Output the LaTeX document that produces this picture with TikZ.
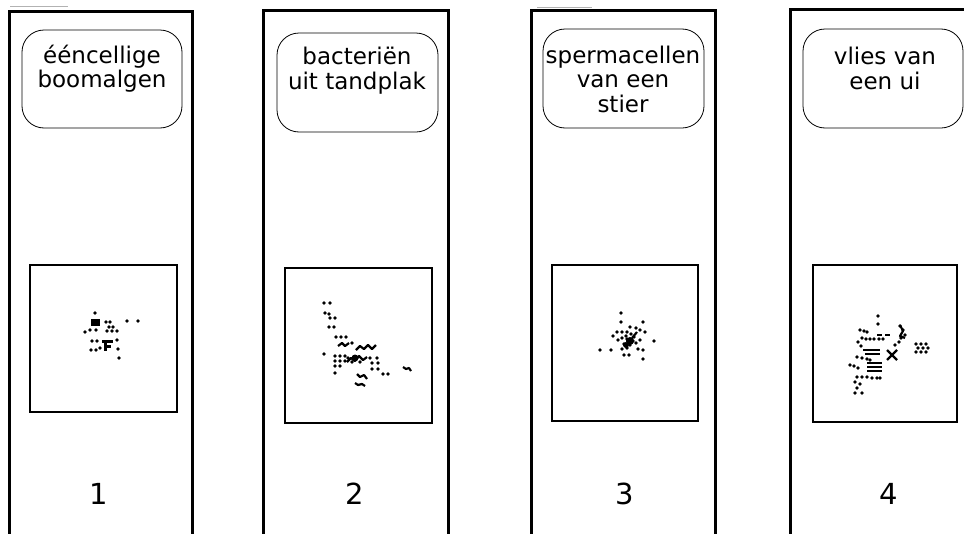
\documentclass[tikz,border=0pt]{standalone}
\usepackage{fontspec}
\setmainfont{DejaVu Sans}
\begin{document}
\begin{tikzpicture}[x=1pt,y=-1pt,
  strip/.style={line width=3pt},
  labelbox/.style={draw, line width=0.8pt, rounded corners=22pt, inner sep=0},
  frame/.style={draw, line width=2pt, inner sep=0},
  lbl/.style={font=\fontsize{23}{24.5}\selectfont, align=center, inner sep=0},
  num/.style={font=\fontsize{29}{32}\selectfont, inner sep=0},
  zig/.style={line width=2.2pt, line join=round}]
\useasboundingbox (0,0) rectangle (964,533);
\clip (0,0) rectangle (964,533);
% strips
\draw[strip] (9,545) -- (9,11) -- (192,11) -- (192,545);
\draw[strip] (263,545) -- (263,10) -- (448,10) -- (448,545);
\draw[strip] (531,545) -- (531,10) -- (715,10) -- (715,545);
\draw[strip] (790,545) -- (790,9) -- (980,9) -- (980,545);
\draw[gray!60, line width=1pt] (10,6) -- (68,6);
\draw[gray!60, line width=1pt] (537,7) -- (592,7);
% label boxes
\node[labelbox, minimum width=160pt, minimum height=98pt] (b1) at (102,79) {};
\node[labelbox, minimum width=161pt, minimum height=99pt] (b2) at (357.5,82.5) {};
\node[labelbox, minimum width=161pt, minimum height=99pt] (b3) at (623.5,78.5) {};
\node[labelbox, minimum width=160pt, minimum height=99pt] (b4) at (883,78.5) {};
\node[lbl] (t1) at (102,68.5) {ééncellige\\boomalgen};
\node[lbl] (t2) at (357,70.5) {bacteriën\\uit tandplak};
\node[lbl] (t3) at (623,79) {spermacellen\\van een\\stier};
\node[lbl] (t4) at (885,68.5) {vlies van\\een ui};
% squares
\node[frame, minimum width=147pt, minimum height=147pt] (s1) at (103.5,338.5) {};
\node[frame, minimum width=147pt, minimum height=155pt] (s2) at (358.5,345.5) {};
\node[frame, minimum width=146pt, minimum height=156pt] (s3) at (625,343) {};
\node[frame, minimum width=144pt, minimum height=157pt] (s4) at (885,343.5) {};
% numbers
\node[num] (n1) at (99,494) {1};
\node[num] (n2) at (355,494) {2};
\node[num] (n3) at (625,494) {3};
\node[num] (n4) at (889,494) {4};
% cluster 1
\foreach \x/\y in {95/313,90/330,96/330,85/332,106/322,110/322,109/327,113/327,107/331,112/331,117/331,127/321,138/321,92/341,97/341,117/340,91/350,96/350,100/348,118/349,119/358}
  \fill (\x,\y) circle[radius=1.8pt];
\fill (91,319) rectangle (100,326);
\draw[line width=3pt] (102,341) -- (113,341);
\draw[line width=3pt] (105,341) -- (105,351);
\draw[line width=3pt] (105,346) -- (111,346);
% cluster 2
\foreach \x/\y in {324/303,330/303,325/313,329/314,330/318,335/318,329/327,334/327,336/337,341/337,346/337,324/354,335/356,340/356,345/356,335/361,340/361,345/361,335/366,340/366,335/373,370/358,377/358,372/363,378/363,372/369,378/369,383/374,388/374,352/343,348/358,352/362,356/358,360/362}
  \fill (\x,\y) circle[radius=1.8pt];
\draw[zig] (338,346) -- (342,343) -- (345,346) -- (349,343);
\draw[zig] (356,350) -- (360,346) -- (364,349) -- (368,345) -- (372,349) -- (376,345);
\draw[zig] (347,362) -- (351,358) -- (355,361) -- (359,356) -- (363,360) -- (367,357);
\draw[zig] (357,374) -- (360,377) -- (364,375) -- (367,379);
\draw[zig] (355,383) -- (358,385) -- (362,384) -- (365,386);
\draw[zig] (403,367) -- (406,369) -- (409,368) -- (411,371);
\fill (355,358) circle[radius=3.5pt];
% cluster 3
\foreach \x/\y in {621/313,621/322,643/322,630/327,636/328,617/332,622/332,627/332,640/330,645/332,613/336,654/341,600/350,611/350,622/349,627/348,638/349,643/350,624/355,629/355,643/359,618/340,640/340,626/336,631/334,634/337,628/341,633/341,624/344,630/345,636/343,627/339,622/338}
  \fill (\x,\y) circle[radius=1.8pt];
\fill (630,341) circle[radius=4pt];
\fill (626,345) circle[radius=3pt];
\draw[zig] (632,338) -- (637,332);
% cluster 4
\foreach \x/\y in {878/316,878/324,860/330,864/331,867/332,900/326,903/330,905/335,901/338,916/344,921/344,926/344,918/348,923/348,928/348,916/352,921/352,926/352,857/357,862/358,867/359,870/360,850/365,854/366,858/368,857/377,862/377,867/377,872/378,877/378,880/378,855/382,860/384,857/388,862/393,855/393,862/338,866/339,870/339,874/339,879/339,883/339,895/345,899/342,858/342,861/346}
  \fill (\x,\y) circle[radius=1.8pt];
\draw[zig] (877,335) -- (882,335);
\draw[zig] (885,335) -- (890,335);
\draw[zig] (863,350) -- (880,350);
\draw[zig] (865,354) -- (880,354);
\draw[zig] (867,363) -- (882,363);
\draw[zig] (867,367) -- (882,367);
\draw[zig] (867,371) -- (882,371);
\draw[zig] (887,350) -- (897,360);
\draw[zig] (897,350) -- (887,360);
\draw[zig] (900,325) -- (903,331) -- (900,336) -- (905,338);
\end{tikzpicture}
\end{document}
